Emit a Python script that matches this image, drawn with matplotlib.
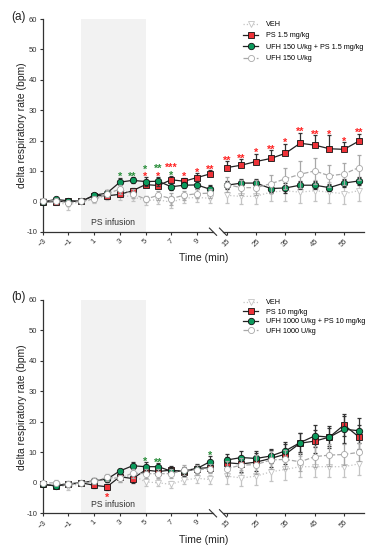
import numpy as np
import matplotlib
matplotlib.use('Agg')
import matplotlib.pyplot as plt

plt.rcParams['font.family'] = ['Liberation Sans', 'DejaVu Sans']

# ---------------- data ----------------
t_left = [-3, -2, -1, 0, 1, 2, 3, 4, 5, 6, 7, 8, 9, 10]
t_right = [15, 20, 25, 30, 35, 40, 45, 50, 55, 60]
ticks_left = [-3, -1, 1, 3, 5, 7, 9]
ticks_right = [15, 25, 35, 45, 55]
yticks = [-10, 0, 10, 20, 30, 40, 50, 60]

# panel (a)
a_labels = ['VEH', 'PS 1.5 mg/kg', 'UFH 150 U/kg + PS 1.5 mg/kg', 'UFH 150 U/kg']
a_veh = [0.0, -0.2, -1.2, 0.0, 0.5, 2.0, 2.0, 1.5, 0.3, 0.5, -0.3, 1.0, 1.3, 1.0,
         2.0, 1.6, 1.7, 3.0, 3.5, 3.0, 3.5, 3.0, 2.5, 3.5]
a_veh_err = [0.5, 1.0, 1.5, 0.3, 1.0, 1.5, 1.5, 1.5, 1.5, 1.5, 2.0, 1.5, 1.5, 1.5,
             2.5, 2.5, 2.5, 3.0, 3.5, 3.5, 3.5, 3.5, 3.5, 3.5]
a_ps = [-0.2, -0.1, 0.0, 0.0, 1.9, 1.8, 2.3, 3.5, 5.5, 5.2, 7.1, 6.6, 7.8, 9.0,
        11.1, 11.9, 13.1, 14.1, 15.8, 19.1, 18.5, 17.3, 17.1, 19.8]
a_ps_err = [0.5, 0.5, 0.5, 0.3, 0.8, 0.8, 1.0, 1.0, 1.2, 1.2, 1.3, 1.2, 1.5, 1.2,
            2.2, 1.9, 2.6, 2.8, 3.2, 3.5, 3.3, 4.4, 2.3, 2.5]
a_combo = [-0.2, 0.6, 0.2, 0.0, 2.0, 2.7, 6.3, 6.9, 6.5, 6.6, 4.8, 5.3, 5.4, 4.0,
           5.3, 6.0, 6.0, 4.2, 4.4, 5.3, 5.3, 4.5, 6.0, 6.7]
a_combo_err = [0.5, 0.5, 0.5, 0.3, 0.8, 1.0, 1.5, 1.0, 1.5, 1.5, 1.2, 1.0, 1.2, 1.5,
               1.3, 1.5, 1.3, 1.3, 1.5, 1.3, 1.3, 1.2, 1.3, 1.3]
a_ufh = [0.0, 0.2, -0.5, 0.0, 0.8, 2.5, 4.0, 2.5, 0.7, 2.0, 0.9, 2.0, 2.5, 2.7,
         5.5, 4.5, 4.5, 5.8, 7.4, 8.9, 10.0, 8.4, 9.0, 11.1]
a_ufh_err = [0.5, 0.8, 1.0, 0.3, 1.0, 1.2, 1.5, 1.5, 1.0, 1.5, 2.0, 1.5, 1.5, 1.5,
             2.5, 2.5, 2.5, 3.0, 3.4, 4.4, 4.4, 3.7, 3.7, 4.0]
a_star_time = [3, 4, 5, 5, 6, 6, 7, 7, 8, 9, 10, 15, 20, 25, 30, 35, 40, 45, 50, 55, 60]
a_star_text = ['*', '**', '*', '*', '*', '**', '*', '***', '*', '*', '**',
               '**', '**', '*', '**', '*', '**', '**', '*', '*', '**']
a_star_group = ['g', 'g', 'r', 'g', 'r', 'g', 'g', 'r', 'r', 'r', 'r',
                'r', 'r', 'r', 'r', 'r', 'r', 'r', 'r', 'r', 'r']
a_star_row = [0, 0, 0, 1, 0, 1, 0, 1, 0, 0, 0, 0, 0, 0, 0, 0, 0, 0, 0, 0, 0]

# panel (b)
b_labels = ['VEH', 'PS 10 mg/kg', 'UFH 1000 U/kg + PS 10 mg/kg', 'UFH 1000 U/kg']
b_veh = [-0.5, -0.5, -1.5, 0.0, 0.5, 1.5, 1.5, 2.5, 0.3, 0.0, -0.5, 0.9, 1.5, 1.1,
         2.2, 1.6, 2.2, 3.6, 4.4, 5.3, 5.3, 5.3, 5.3, 6.2]
b_veh_err = [0.5, 0.8, 1.0, 0.3, 1.0, 1.2, 1.2, 1.5, 1.2, 1.2, 1.2, 1.2, 1.5, 1.5,
             2.5, 2.5, 3.0, 3.0, 3.5, 3.5, 3.5, 3.5, 3.5, 3.5]
b_ps = [-0.5, -1.0, -0.5, 0.0, -0.8, -1.3, 2.0, 1.4, 4.2, 3.7, 4.2, 3.6, 4.7, 5.0,
        6.6, 6.2, 6.8, 8.0, 9.4, 13.0, 13.7, 15.0, 19.0, 15.1]
b_ps_err = [0.5, 0.5, 0.5, 0.3, 0.8, 0.9, 1.0, 1.5, 1.5, 1.5, 1.2, 1.5, 1.5, 1.5,
            2.0, 2.5, 3.0, 2.8, 3.2, 3.5, 3.8, 3.0, 3.5, 4.0]
b_combo = [-0.5, -1.0, -0.3, 0.0, 0.7, 1.2, 3.9, 5.6, 5.3, 5.3, 3.8, 4.0, 4.7, 6.9,
           7.5, 8.3, 8.0, 8.8, 10.5, 13.2, 15.4, 15.0, 17.6, 17.1]
b_combo_err = [0.5, 0.5, 0.5, 0.3, 0.8, 0.8, 0.8, 1.2, 1.5, 1.2, 1.0, 1.0, 1.2, 1.8,
               2.0, 2.2, 2.5, 2.3, 2.8, 3.0, 3.5, 3.5, 4.4, 4.1]
b_ufh = [0.0, 0.0, -0.5, 0.0, 0.5, 1.8, 1.5, 3.2, 3.0, 3.0, 3.0, 4.2, 4.2, 4.7,
         4.7, 5.8, 6.0, 7.5, 7.7, 6.9, 8.6, 9.1, 9.3, 10.0]
b_ufh_err = [0.5, 0.8, 1.0, 0.3, 1.0, 1.2, 1.2, 1.5, 1.5, 1.5, 1.5, 1.5, 1.5, 1.5,
             2.5, 2.5, 3.0, 3.0, 3.0, 3.0, 3.5, 3.5, 3.5, 3.0]
b_star_time = [2, 5, 6, 10]
b_star_text = ['*', '*', '**', '*']
b_star_group = ['r', 'g', 'g', 'g']
b_star_row = [-1, 0, 0, 0]

# ---------------- styles ----------------
RED = '#ee3238'
GREEN = '#0b9a5c'
STAR_COL = {'r': '#ff2424', 'g': '#2b8f3c'}
GRAY_V = '#c4c4c4'
GRAY_U = '#a8a8a8'
styles = [
    dict(color=GRAY_V, ls=':', marker='v', mfc='white', mec=GRAY_V, ecol=GRAY_V, ms=4.2),
    dict(color='#222222', ls='-', marker='s', mfc=RED, mec='#111111', ecol='#333333', ms=4.5),
    dict(color='#222222', ls='-', marker='o', mfc=GREEN, mec='#111111', ecol='#333333', ms=4.6),
    dict(color=GRAY_U, ls='--', marker='o', mfc='white', mec=GRAY_U, ecol=GRAY_U, ms=4.4),
]

fig = plt.figure(figsize=(3.8, 5.5), dpi=100)
W, H = 380.0, 550.0
time = t_left + t_right


def make_axes(top_px, bot_px):
    axl = fig.add_axes([42.7 / W, 1 - bot_px / H, (213 - 42.7) / W, (bot_px - top_px) / H])
    axr = fig.add_axes([223 / W, 1 - bot_px / H, (364 - 223) / W, (bot_px - top_px) / H])
    return axl, axr


def draw_panel(axl, axr, series, errs, labels, upper_only, st_t, st_txt, st_grp, st_row,
               leg_xy, leg_space):
    nl = len(t_left)
    for ax, sl, ts in ((axl, slice(0, nl), t_left), (axr, slice(nl, None), t_right)):
        ax.axvspan(0, 5, color='#f2f2f2', zorder=0, lw=0)
        for k, (vals, er, st) in enumerate(zip(series, errs, styles)):
            v = np.array(vals)[sl]
            e = np.array(er)[sl]
            yerr = [np.zeros_like(e), e] if upper_only[k] else e
            ax.errorbar(ts, v, yerr=yerr, fmt='none', ecolor=st['ecol'], elinewidth=0.9,
                        capsize=1.6, capthick=0.9, zorder=2 + k, clip_on=False)
            ax.plot(ts, v, color=st['color'], ls=st['ls'], lw=0.9, marker=st['marker'],
                    ms=st['ms'], mfc=st['mfc'], mec=st['mec'], mew=0.6, zorder=3 + k,
                    clip_on=False, label=labels[k])
        ax.set_ylim(-10, 60)
        ax.set_yticks(yticks)
        for s in ('top', 'right'):
            ax.spines[s].set_visible(False)
        for s in ('bottom', 'left'):
            ax.spines[s].set_color('#333333')
            ax.spines[s].set_linewidth(0.9)
        ax.tick_params(axis='both', labelsize=5.5, length=2.5, width=0.8, colors='#333333',
                       pad=1.5)
    axl.set_xlim(-3, 10.25)
    axr.set_xlim(13.7, 61.8)
    axl.set_xticks(ticks_left)
    axr.set_xticks(ticks_right)
    for ax in (axl, axr):
        for lab in ax.get_xticklabels():
            lab.set_rotation(45)
            lab.set_ha('center')
    axr.spines['left'].set_visible(False)
    axr.tick_params(axis='y', left=False, labelleft=False)
    axl.set_yticklabels([str(v) for v in yticks])
    # break marks
    for ax, xx, d in ((axl, 1.0, 0.021), (axr, 0.0, 0.025)):
        ax.plot([xx - d, xx + d], [0.017, -0.017], transform=ax.transAxes,
                color='#333333', lw=0.8, clip_on=False)
    axl.text(2.5, -7.0, 'PS infusion', ha='center', va='center', fontsize=6.2, color='#333333')

    # significance stars
    ps_v, ps_e = np.array(series[1]), np.array(errs[1])
    co_v, co_e = np.array(series[2]), np.array(errs[2])
    for t, txt, g, r in zip(st_t, st_txt, st_grp, st_row):
        i = time.index(t)
        ax = axl if t <= 10 else axr
        if r >= 0:
            base = max(ps_v[i] + ps_e[i], co_v[i] + co_e[i])
            y = base + 1.4 + 2.4 * r
        else:
            base = min(ps_v[i] - ps_e[i], co_v[i] - co_e[i])
            y = base - 1.3
        ax.annotate(txt, xy=(t, y), xytext=(0, -5.0), textcoords='offset points',
                    ha='center', va='baseline', fontsize=7.8, fontweight='bold',
                    color=STAR_COL[g], annotation_clip=False)

    h, l = axr.get_legend_handles_labels()
    fig.legend(h, l, loc='upper left', bbox_to_anchor=leg_xy, bbox_transform=fig.transFigure,
               frameon=False, fontsize=5.2, handlelength=2.1, handletextpad=1.1,
               labelspacing=leg_space, borderpad=0, borderaxespad=0)


# panel a
axl, axr = make_axes(19, 231.7)
draw_panel(axl, axr, [a_veh, a_ps, a_combo, a_ufh], [a_veh_err, a_ps_err, a_combo_err, a_ufh_err],
           a_labels, [False, True, False, False], a_star_time, a_star_text, a_star_group, a_star_row,
           (243 / W, 1 - 21 / H), 0.6)
fig.text(18 / W, 1 - 17 / H, '(a)', fontsize=8.5, ha='center', va='center', color='#222222')
fig.text(204 / W, 1 - 258 / H, 'Time (min)', fontsize=7.5, ha='center', va='center', color='#222222')
fig.text(22 / W, 1 - 125 / H, 'delta respiratory rate (bpm)', fontsize=7.5, rotation=90,
         ha='center', va='center', color='#222222')

# panel b
axl, axr = make_axes(300, 513.3)
draw_panel(axl, axr, [b_veh, b_ps, b_combo, b_ufh], [b_veh_err, b_ps_err, b_combo_err, b_ufh_err],
           b_labels, [False, False, False, False], b_star_time, b_star_text, b_star_group, b_star_row,
           (243 / W, 1 - 299 / H), 0.35)
fig.text(18 / W, 1 - 297 / H, '(b)', fontsize=8.5, ha='center', va='center', color='#222222')
fig.text(204 / W, 1 - 540 / H, 'Time (min)', fontsize=7.5, ha='center', va='center', color='#222222')
fig.text(22 / W, 1 - 407 / H, 'delta respiratory rate (bpm)', fontsize=7.5, rotation=90,
         ha='center', va='center', color='#222222')

fig.savefig('out.png', dpi=100)
